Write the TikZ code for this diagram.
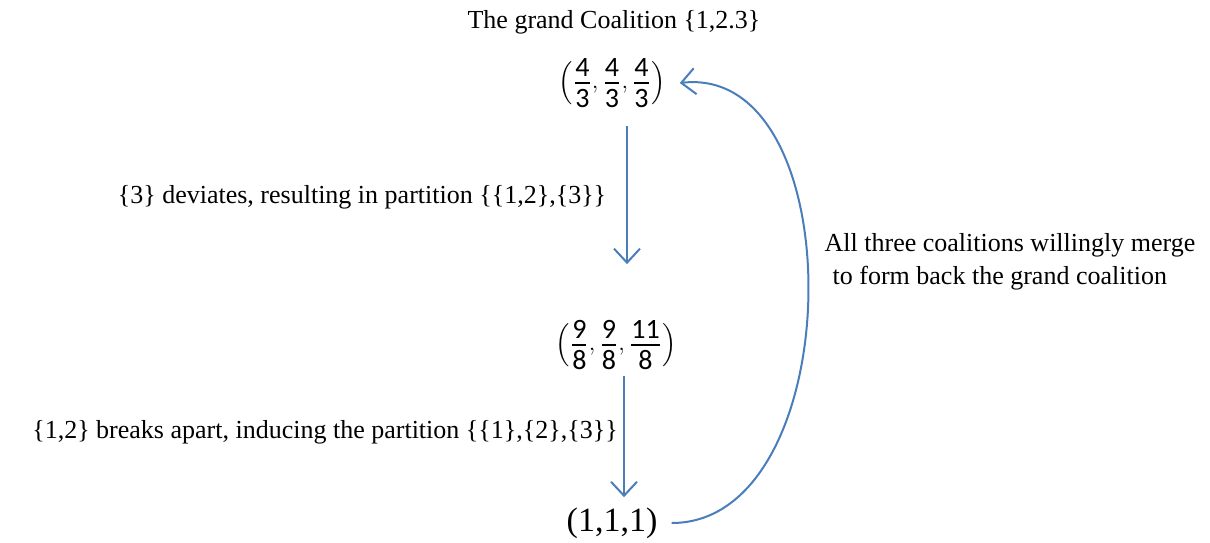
\documentclass[tikz,border=0pt]{standalone}
\usepackage{amsmath}
\usepackage{fontspec}
\setmainfont{Liberation Serif}
\newfontfamily\fracfont{Carlito}
\usepackage{xcolor}
\usepackage{tikz}
\usetikzlibrary{arrows.meta,positioning}
\definecolor{arrc}{HTML}{4A7EBB}
\newcommand{\cfr}[2]{\genfrac{}{}{0.9pt}{1}%
  {\text{\fontsize{14}{14}\selectfont\fracfont #1\rule[-1.8pt]{0pt}{1pt}}}%
  {\text{\fontsize{14}{14}\selectfont\fracfont\rule{0pt}{10.8pt}#2}}}
\tikzset{
  ar/.style={-{Straight Barb[length=7pt,width=13pt,line width=1pt]},line width=1pt,arrc},
  lbl/.style={font=\fontsize{13}{16.5}\selectfont,inner sep=0pt},
  pay/.style={font=\fontsize{13}{16}\selectfont,inner sep=0pt}
}

\begin{document}
\begin{tikzpicture}[x=0.5pt,y=-0.5pt]
\useasboundingbox (0,0) rectangle (1210,542);
\node[lbl] (top) at (614,22) {The grand Coalition \{1,2.3\}};
\node[pay] (fa) at (612,83) {$\Bigl(\cfr{4}{3},\cfr{4}{3},\cfr{4}{3}\Bigr)$};
\node[pay] (fb) at (616,345) {$\Bigl(\cfr{9}{8},\cfr{9}{8},\cfr{11}{8}\Bigr)$};
\node[font=\fontsize{17}{20}\selectfont,inner sep=0pt] (fc) at (612,523) {(1,1,1)};
\node[lbl] (l1) at (362,197) {\{3\} deviates, resulting in partition \{\{1,2\},\{3\}\}};
\node[lbl] (l2) at (325,432) {\{1,2\} breaks apart, inducing the partition \{\{1\},\{2\},\{3\}\}};
\node[lbl,align=left] (l3) at (1010,262) {All three coalitions willingly merge\\\hspace{4pt}to form back the grand coalition};
% steps down
\draw[ar,shorten <=9pt,shorten >=28pt] (fa.south -| 627,0) -- (fb.north -| 627,0);
\draw[ar,shorten <=3pt,shorten >=5pt] (fb.south -| 624,0) -- (fc.north -| 624,0);
% back to the grand coalition
\draw[ar] ([xshift=7pt]fc.east) .. controls +(178,0) and +(175,-20) .. ([xshift=7pt]fa.east);
\end{tikzpicture}
\end{document}
